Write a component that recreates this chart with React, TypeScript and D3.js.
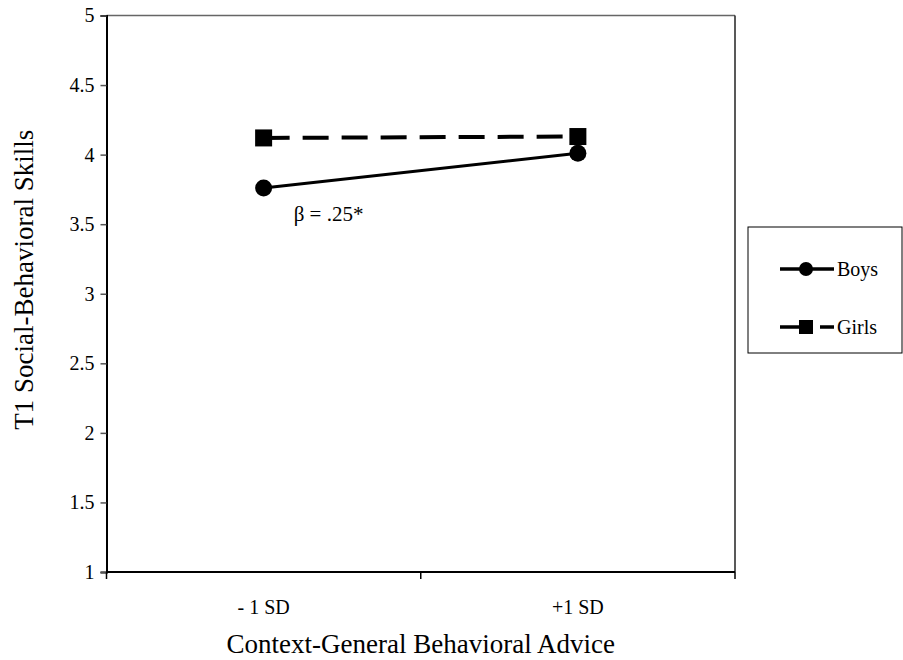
import React, { useEffect, useRef } from 'react';
import * as d3 from 'd3';

const categories = ['- 1 SD', '+1 SD'];
const boys = [3.76, 4.01];
const girls = [4.12, 4.13];
const yTicks = [1, 1.5, 2, 2.5, 3, 3.5, 4, 4.5, 5];

const width = 903;
const height = 660;

const App = () => {
    const svgRef = useRef<SVGSVGElement>(null);

    useEffect(() => {
        const svg = d3.select(svgRef.current);
        svg.selectAll('*').remove();

        const margin = { top: 15.5, right: 168, bottom: 88, left: 106.5 };
        const innerWidth = width - margin.left - margin.right;
        const innerHeight = height - margin.top - margin.bottom;
        const font = '"Liberation Serif", "Times New Roman", serif';

        const g = svg.append('g')
            .attr('transform', `translate(${margin.left},${margin.top})`);

        const x = d3.scaleBand().domain(categories).range([0, innerWidth]);
        const y = d3.scaleLinear().domain([1, 5]).range([innerHeight, 0]);
        const cx = (c: string) => (x(c) || 0) + x.bandwidth() / 2;

        // top and right border of the plot area
        g.append('line')
            .attr('x1', 0).attr('x2', innerWidth)
            .attr('stroke', '#666').attr('stroke-width', 1.5);
        g.append('line')
            .attr('x1', innerWidth).attr('x2', innerWidth)
            .attr('y1', 0).attr('y2', innerHeight)
            .attr('stroke', '#222').attr('stroke-width', 1.5);

        // y axis
        const yAxis = g.append('g')
            .call(d3.axisLeft(y).tickValues(yTicks).tickSize(6).tickPadding(6).tickFormat(d => String(d)));
        yAxis.attr('font-family', font).attr('font-size', 20);
        yAxis.select('.domain').attr('stroke', '#000').attr('stroke-width', 2);
        yAxis.selectAll('.tick line').attr('stroke', '#555').attr('stroke-width', 1.5);
        yAxis.selectAll('.tick text').attr('fill', '#000');

        // x axis: ticks at band edges
        const xAxis = g.append('g').attr('transform', `translate(0,${innerHeight})`);
        xAxis.append('line')
            .attr('x1', 0).attr('x2', innerWidth)
            .attr('stroke', '#000').attr('stroke-width', 2);
        const edges = [0, ...categories.map(c => (x(c) || 0) + x.bandwidth())];
        xAxis.selectAll('.edge').data(edges).enter().append('line')
            .attr('x1', d => d).attr('x2', d => d)
            .attr('y1', 0).attr('y2', 7)
            .attr('stroke', '#000').attr('stroke-width', 1.5);
        xAxis.selectAll('.lab').data(categories).enter().append('text')
            .attr('x', d => cx(d))
            .attr('y', 42)
            .attr('text-anchor', 'middle')
            .style('font-family', font).style('font-size', '20px')
            .text(d => d);

        // axis titles
        g.append('text')
            .attr('x', innerWidth / 2)
            .attr('y', innerHeight + 81)
            .attr('text-anchor', 'middle')
            .style('font-family', font).style('font-size', '27px')
            .text('Context-General Behavioral Advice');

        g.append('text')
            .attr('transform', `translate(${-74},${innerHeight / 2 - 14}) rotate(-90)`)
            .attr('text-anchor', 'middle')
            .style('font-family', font).style('font-size', '27px')
            .text('T1 Social-Behavioral Skills');

        const line = d3.line<number>()
            .x((_, i) => cx(categories[i]))
            .y(d => y(d));

        // girls (dashed, squares)
        g.append('path')
            .datum(girls)
            .attr('fill', 'none')
            .attr('stroke', '#000')
            .attr('stroke-width', 4)
            .attr('stroke-dasharray', '26,13')
            .attr('d', line);
        g.selectAll('.sq').data(girls).enter().append('rect')
            .attr('x', (_, i) => cx(categories[i]) - 8.5)
            .attr('y', d => y(d) - 8.5)
            .attr('width', 17).attr('height', 17)
            .attr('fill', '#000');

        // boys (solid, circles)
        g.append('path')
            .datum(boys)
            .attr('fill', 'none')
            .attr('stroke', '#000')
            .attr('stroke-width', 3)
            .attr('d', line);
        g.selectAll('.dot').data(boys).enter().append('circle')
            .attr('cx', (_, i) => cx(categories[i]))
            .attr('cy', d => y(d))
            .attr('r', 8.5)
            .attr('fill', '#000');

        g.append('text')
            .attr('x', cx(categories[0]) + 30)
            .attr('y', y(boys[0]) + 33)
            .style('font-family', font).style('font-size', '21px')
            .text('β = .25*');

        // legend
        const lg = svg.append('g').attr('transform', 'translate(748,227)');
        lg.append('rect')
            .attr('width', 154).attr('height', 126)
            .attr('fill', '#fff').attr('stroke', '#000').attr('stroke-width', 1);
        const items = [
            { name: 'Boys', dash: null, shape: 'circle' },
            { name: 'Girls', dash: '33,7', shape: 'square' },
        ];
        items.forEach((it, i) => {
            const yy = 42 + i * 58;
            lg.append('line')
                .attr('x1', 32).attr('x2', 86)
                .attr('y1', yy).attr('y2', yy)
                .attr('stroke', '#000').attr('stroke-width', 3.5)
                .attr('stroke-dasharray', it.dash);
            if (it.shape === 'circle') {
                lg.append('circle').attr('cx', 58).attr('cy', yy).attr('r', 7).attr('fill', '#000');
            } else {
                lg.append('rect').attr('x', 51).attr('y', yy - 7).attr('width', 14).attr('height', 14).attr('fill', '#000');
            }
            lg.append('text')
                .attr('x', 89).attr('y', yy + 7)
                .style('font-family', font).style('font-size', '20px')
                .text(it.name);
        });
    }, []);

    return (
        <svg ref={svgRef} width={width} height={height}
            style={{ position: 'absolute', left: 0, top: 0, background: '#fff' }} />
    );
};

export default App;
